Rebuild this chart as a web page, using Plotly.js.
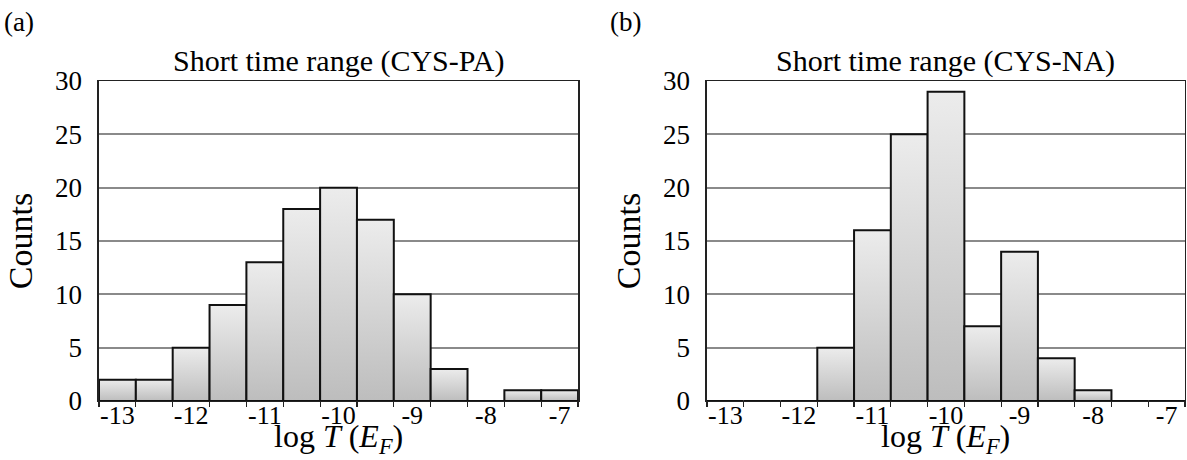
<!DOCTYPE html>
<html>
<head>
<meta charset="utf-8">
<script src="https://cdn.plot.ly/plotly-3.0.1.min.js"></script>
<style>html,body{margin:0;padding:0;background:#fff;}#chart{width:1187px;height:460px;}</style>
</head>
<body>
<div id="chart"></div>
<script>
// Bin centres of log T(E_F)
var binCenters = [-13, -12.5, -12, -11.5, -11, -10.5, -10, -9.5, -9, -8.5, -8, -7.5, -7];
// Counts, panel (a) CYS-PA
var countsPA = [2, 2, 5, 9, 13, 18, 20, 17, 10, 3, 0, 1, 1];
// Counts, panel (b) CYS-NA
var countsNA = [0, 0, 0, 5, 16, 25, 29, 7, 14, 4, 1, 0, 0];
var tickVals = [-13, -12, -11, -10, -9, -8, -7];
var tickText = ["-13", "-12", "-11", "-10", "-9", "-8", "-7"];
var titleA = "Short time range (CYS-PA)";
var titleB = "Short time range (CYS-NA)";
var panelA = "(a)", panelB = "(b)";
var xTitle = "log <i>T</i> (<i>E</i><sub><i>F</i></sub>)";
var yTitle = "Counts";

var FONT = "Liberation Serif";
var barStyle = {color: "#d6d6d6", line: {color: "#111", width: 2}};

var traces = [
  {type: "bar", x: binCenters, y: countsPA, width: 0.5, marker: barStyle, xaxis: "x", yaxis: "y", hoverinfo: "none"},
  {type: "bar", x: binCenters, y: countsNA, width: 0.5, marker: barStyle, xaxis: "x2", yaxis: "y2", hoverinfo: "none"}
];

function xAxis(dom) {
  return {
    domain: dom, range: [-13.25, -6.75], tickmode: "array", tickvals: tickVals, ticktext: tickText,
    ticks: "outside", ticklen: 0, showgrid: false, zeroline: false,
    showline: true, mirror: true, linecolor: "#222", linewidth: 1.5,
    minor: {ticks: "outside", tick0: -13.25, dtick: 0.5, ticklen: 5, tickwidth: 1.2, tickcolor: "#222", showgrid: false},
    tickfont: {family: FONT, size: 26, color: "#000"},
    ticklabelposition: "outside",
    ticklabelstandoff: -10,
    automargin: false
  };
}
function yAxis(dom, anchor) {
  return {
    domain: dom, range: [0, 30], dtick: 5, tick0: 0, anchor: anchor,
    ticks: "", showgrid: true, gridcolor: "#8a8a8a", gridwidth: 2, zeroline: false,
    showline: true, mirror: true, linecolor: "#222", linewidth: 1.5,
    tickfont: {family: FONT, size: 27, color: "#000"},
    ticklabelstandoff: 10,
    title: {text: yTitle, font: {family: FONT, size: 34, color: "#000"}, standoff: 12},
    automargin: false
  };
}

var yDom = [0.1283, 0.8239];
var layout = {
  width: 1187, height: 460,
  margin: {l: 0, r: 0, t: 0, b: 0},
  paper_bgcolor: "#fff", plot_bgcolor: "#fff",
  showlegend: false, bargap: 0,
  font: {family: FONT, color: "#000"},
  xaxis: xAxis([0.0834, 0.4870]),
  yaxis: yAxis(yDom, "x"),
  xaxis2: Object.assign(xAxis([0.5956, 0.9983]), {anchor: "y2"}),
  yaxis2: yAxis(yDom, "x2"),
  annotations: [
    {text: titleA, xref: "x domain", yref: "paper", x: 0.5, y: 0.867, xanchor: "center", yanchor: "middle", showarrow: false, font: {family: FONT, size: 30, color: "#000"}},
    {text: titleB, xref: "x2 domain", yref: "paper", x: 0.5, y: 0.867, xanchor: "center", yanchor: "middle", showarrow: false, font: {family: FONT, size: 30, color: "#000"}},
    {text: xTitle, xref: "x domain", yref: "paper", x: 0.5, y: 0.0, xanchor: "center", yanchor: "bottom", borderpad: 0, showarrow: false, font: {family: FONT, size: 32, color: "#000"}},
    {text: xTitle, xref: "x2 domain", yref: "paper", x: 0.5, y: 0.0, xanchor: "center", yanchor: "bottom", borderpad: 0, showarrow: false, font: {family: FONT, size: 32, color: "#000"}},
    {text: panelA, xref: "paper", yref: "paper", x: 0.002, y: 0.952, xanchor: "left", yanchor: "middle", showarrow: false, font: {family: FONT, size: 27, color: "#000"}},
    {text: panelB, xref: "paper", yref: "paper", x: 0.512, y: 0.952, xanchor: "left", yanchor: "middle", showarrow: false, font: {family: FONT, size: 27, color: "#000"}}
  ]
};

Plotly.newPlot("chart", traces, layout, {staticPlot: true, displayModeBar: false}).then(function (gd) {
  var svg = gd.querySelector("svg.main-svg");
  var ns = "http://www.w3.org/2000/svg";
  var defs = svg.querySelector("defs") || svg.insertBefore(document.createElementNS(ns, "defs"), svg.firstChild);
  var lg = document.createElementNS(ns, "linearGradient");
  lg.setAttribute("id", "barGrad");
  lg.setAttribute("x1", "0"); lg.setAttribute("y1", "0");
  lg.setAttribute("x2", "0"); lg.setAttribute("y2", "1");
  [["0", "#ececec"], ["1", "#bdbdbd"]].forEach(function (s) {
    var st = document.createElementNS(ns, "stop");
    st.setAttribute("offset", s[0]); st.setAttribute("stop-color", s[1]);
    lg.appendChild(st);
  });
  defs.appendChild(lg);
  gd.querySelectorAll(".bars .point path").forEach(function (p) {
    p.style.fill = "url(#barGrad)";
  });
});
</script>
</body>
</html>
